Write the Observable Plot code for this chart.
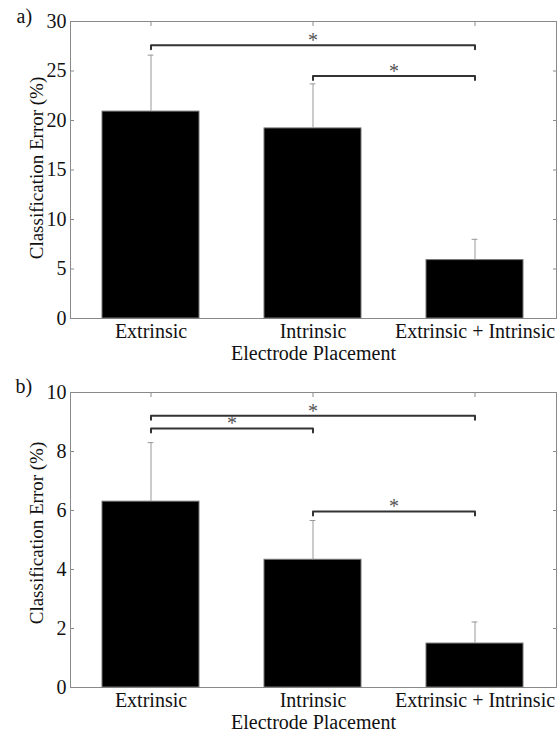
<!DOCTYPE html>
<html>
<head>
<meta charset="utf-8">
<script src="https://cdn.jsdelivr.net/npm/d3@7"></script>
<script src="https://cdn.jsdelivr.net/npm/@observablehq/plot@0.6"></script>
<style>
  html, body { margin: 0; padding: 0; background: #fff; }
  #chart svg { display: block; }
</style>
</head>
<body>
<div id="chart"></div>
<script>
// ---- data ----
const categories = ["Extrinsic", "Intrinsic", "Extrinsic + Intrinsic"];

// panel a
const meanA = [20.9, 19.2, 5.9];
const sdA = [5.7, 4.5, 2.1];
const yTicksA = [0, 5, 10, 15, 20, 25, 30];
const bracketsA = [
  {from: 0, to: 2, level: 27.6},
  {from: 1, to: 2, level: 24.5}
];

// panel b
const meanB = [6.3, 4.33, 1.49];
const sdB = [2.0, 1.33, 0.73];
const yTicksB = [0, 2, 4, 6, 8, 10];
const bracketsB = [
  {from: 0, to: 2, level: 9.21},
  {from: 0, to: 1, level: 8.78},
  {from: 1, to: 2, level: 5.97}
];

const panelLabels = ["a)", "b)"];
const yLabel = "Classification Error (%)";
const xLabel = "Electrode Placement";

// ---- layout ----
const W = 560, ML = 70, MR = 4;
const step = (W - ML - MR) / categories.length;
const bandw = step * 0.6;

function panel({means, sds, yTicks, brackets, label, height, marginTop, marginBottom, labelDy, labelDx, yLabelDy}) {
  const yMax = yTicks[yTicks.length - 1];
  const plotH = height - marginTop - marginBottom;
  const hook = 4 * yMax / plotH;
  const data = categories.map((c, i) => ({cat: c, value: means[i], upper: means[i] + sds[i]}));
  const bracketPts = brackets.flatMap((b, k) => [
    {x: categories[b.from], y: b.level - hook, id: k},
    {x: categories[b.from], y: b.level, id: k},
    {x: categories[b.to], y: b.level, id: k},
    {x: categories[b.to], y: b.level - hook, id: k}
  ]);
  const stars = brackets.map(b => ({x: categories[b.from], y: b.level, off: (b.to - b.from) * step / 2}));
  return Plot.plot({
    width: W,
    height,
    marginLeft: ML,
    marginRight: MR,
    marginTop,
    marginBottom,
    style: {fontFamily: "'Liberation Serif', 'Times New Roman', serif", fontSize: "20px", color: "#111", background: "#fff"},
    x: {domain: categories, paddingInner: 0.4, paddingOuter: 0.2},
    y: {domain: [0, yMax]},
    marks: [
      Plot.frame({stroke: "#8a8a8a"}),
      Plot.barY(data, {x: "cat", y: "value", fill: "black", stroke: "#777", strokeWidth: 1}),
      Plot.ruleX(data, {x: "cat", y1: "value", y2: "upper", stroke: "#999", strokeWidth: 1}),
      Plot.tickY(data, {x: "cat", y: "upper", stroke: "#999", strokeWidth: 1, insetLeft: (bandw - 6) / 2, insetRight: (bandw - 6) / 2}),
      Plot.line(bracketPts, {x: "x", y: "y", z: "id", stroke: "#333", strokeWidth: 2, curve: "linear"}),
      ...stars.map(s => Plot.text([s], {x: "x", y: "y", text: () => "*", dx: s.off, dy: 2, lineAnchor: "bottom", fill: "#555", fontSize: 20})),
      Plot.axisY({anchor: "left", ticks: yTicks, tickSize: 0, tickPadding: 4, label: null}),
      Plot.axisY({anchor: "left", ticks: yTicks, tickSize: -4, tickFormat: () => "", label: null, stroke: "#8a8a8a"}),
      Plot.axisY({anchor: "right", ticks: yTicks, tickSize: -4, tickFormat: () => "", label: null, stroke: "#8a8a8a"}),
      Plot.axisX({anchor: "top", tickSize: -4, tickFormat: () => "", label: null, stroke: "#8a8a8a"}),
      Plot.axisX({anchor: "bottom", tickSize: 0, tickPadding: 5, label: null}),
      Plot.text([yLabel], {frameAnchor: "left", rotate: -90, dx: -34, dy: yLabelDy, text: d => d, fontSize: 19, textAnchor: "middle", lineAnchor: "middle"}),
      Plot.text([xLabel], {frameAnchor: "bottom", dy: 41, text: d => d, lineAnchor: "bottom", textAnchor: "middle"}),
      Plot.text([label], {frameAnchor: "top-left", text: d => d, dx: labelDx, dy: labelDy, lineAnchor: "bottom", textAnchor: "start"})
    ]
  });
}

const chart = document.getElementById("chart");
chart.appendChild(panel({means: meanA, sds: sdA, yTicks: yTicksA, brackets: bracketsA, label: panelLabels[0], height: 366, marginTop: 21, marginBottom: 48, labelDx: -54, labelDy: 1, yLabelDy: -2}));
chart.appendChild(panel({means: meanB, sds: sdB, yTicks: yTicksB, brackets: bracketsB, label: panelLabels[1], height: 366, marginTop: 26, marginBottom: 45, labelDx: -55, labelDy: 0, yLabelDy: -7}));
</script>
</body>
</html>
